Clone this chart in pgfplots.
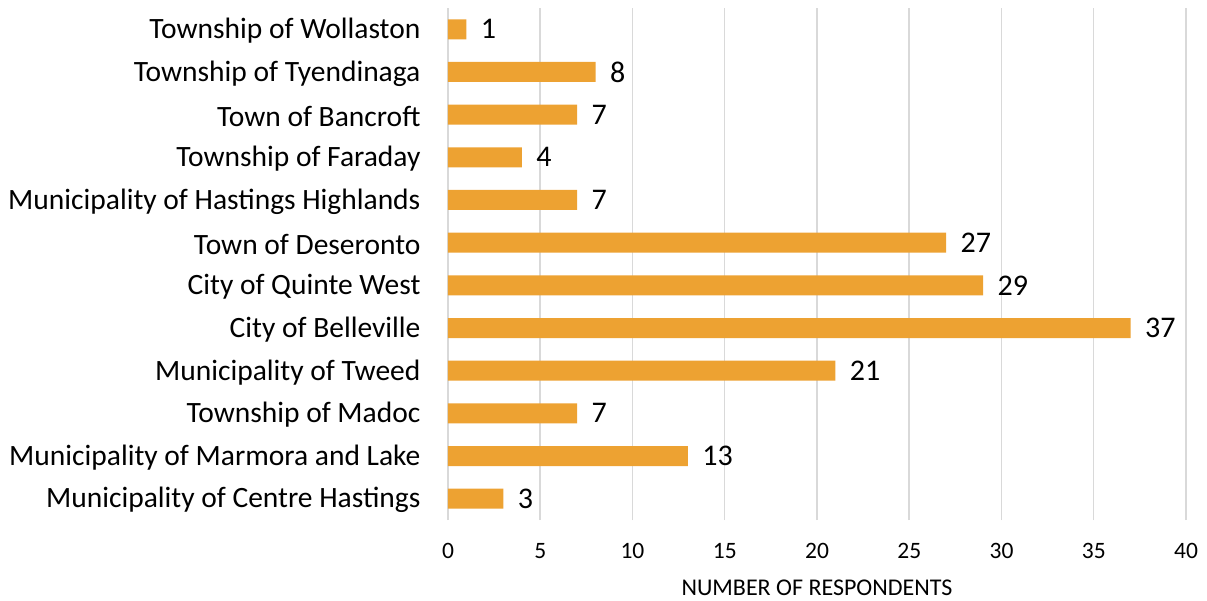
\documentclass[border=0pt]{standalone}
\usepackage{pgfplots}
\pgfplotsset{compat=1.18}
\usepackage{fontspec}
\setmainfont{Carlito}
\definecolor{barc}{HTML}{EDA232}
\definecolor{gridc}{HTML}{D9D9D9}
\begin{document}
\begin{tikzpicture}
\begin{axis}[
  at={(0,0)}, anchor=south west,
  scale only axis,
  width=738pt, height=512pt,
  xbar, bar width=20pt,
  xmin=0, xmax=40,
  ymin=-0.5, ymax=11.5,
  xtick={0,5,...,40},
  ytick={0,...,11},
  yticklabels={Municipality of Centre Hastings, Municipality of Marmora and Lake, Township of Madoc, Municipality of Tweed, City of Belleville, City of Quinte West, Town of Deseronto, Municipality of Hastings Highlands, Township of Faraday, Town of Bancroft, Township of Tyendinaga, Township of Wollaston},
  axis line style={draw=none},
  major tick length=0pt,
  xmajorgrids, grid style={gridc, line width=1.5pt},
  tick label style={font=\fontsize{23.5}{27}\selectfont},
  yticklabel style={font=\fontsize{29.5}{34}\selectfont, xshift=-24pt, yshift=-1.5pt},
  xticklabel style={yshift=-20pt},
  /pgf/number format/assume math mode=true,
  xlabel={NUMBER OF RESPONDENTS},
  xlabel style={font=\fontsize{24}{28}\selectfont, at={(axis description cs:0.5,0)}, anchor=center, yshift=-68pt},
  nodes near coords,
  nodes near coords style={font=\fontsize{30}{34}\selectfont, black, anchor=west, xshift=11pt},
  point meta=x,
]
\addplot[fill=barc, draw=none] coordinates {
 (3,0) (13,1) (7,2) (21,3) (37,4) (29,5) (27,6) (7,7) (4,8) (7,9) (8,10) (1,11)
};
\end{axis}
\pgfresetboundingbox
\path[use as bounding box] (-448pt,-80pt) rectangle (759pt,520pt);
\end{tikzpicture}
\end{document}
